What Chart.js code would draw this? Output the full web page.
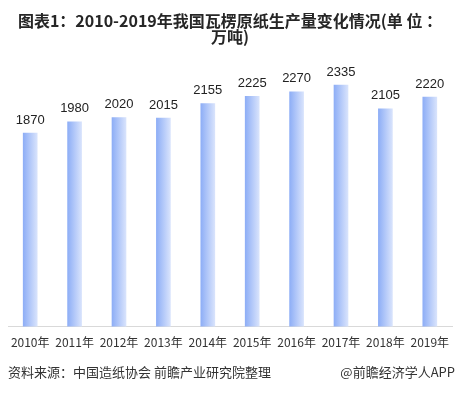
<!DOCTYPE html>
<html><head><meta charset="utf-8">
<script src="https://cdn.jsdelivr.net/npm/chart.js@4"></script>
<style>html,body{margin:0;padding:0;background:#fff}#w{width:461px;height:393px}</style>
</head><body><div id="w"><canvas id="c"></canvas></div>
<script>
const categories = ['2010年','2011年','2012年','2013年','2014年','2015年','2016年','2017年','2018年','2019年'];
const production = [1870,1980,2020,2015,2155,2225,2270,2335,2105,2220];
const titleLines = ['图表1：2010-2019年我国瓦楞原纸生产量变化情况(单 位 ：','万吨)'];
const sourceText = '资料来源：中国造纸协会 前瞻产业研究院整理';
const brandText = '@前瞻经济学人APP';

const CJK = '"Noto Sans CJK SC","Noto Sans",sans-serif';

function barFill(context){
  const chart = context.chart;
  const xs = chart.scales && chart.scales.x;
  if (!xs || context.dataIndex === undefined) return '#a9c0f8';
  const x = xs.getPixelForValue(context.dataIndex);
  if (!isFinite(x)) return '#a9c0f8';
  const g = chart.ctx.createLinearGradient(x-7,0,x+7,0);
  g.addColorStop(0,'#8eaef6');
  g.addColorStop(1,'#d8e3fc');
  return g;
}

const labelPlugin = {
  id:'labels',
  afterDatasetsDraw(chart){
    const ctx = chart.ctx;
    ctx.save();
    ctx.fillStyle = '#222';
    ctx.font = '13px "Liberation Sans",sans-serif';
    ctx.textAlign = 'center';
    ctx.textBaseline = 'middle';
    chart.getDatasetMeta(0).data.forEach((b,i)=>{
      ctx.fillText(String(production[i]), b.x, b.y-13);
    });
    ctx.restore();
  },
  afterDraw(chart){
    const ctx = chart.ctx;
    ctx.save();
    ctx.fillStyle = '#333';
    ctx.font = '13px '+CJK;
    ctx.textBaseline = 'middle';
    ctx.textAlign = 'left';
    ctx.fillText(sourceText, 8, 372);
    ctx.textAlign = 'right';
    ctx.fillText(brandText, 455, 372);
    ctx.restore();
  }
};

new Chart(document.getElementById('c'), {
  type:'bar',
  data:{labels:categories, datasets:[{data:production, barThickness:14, backgroundColor:barFill}]},
  options:{
    responsive:true, maintainAspectRatio:false, animation:false,
    layout:{padding:{left:8,right:9,top:0,bottom:34}},
    plugins:{
      legend:{display:false}, tooltip:{enabled:false},
      title:{display:true, text:titleLines, color:'#262626',
        font:{family:CJK, size:16, weight:'bold', lineHeight:1.0},
        padding:{top:13,bottom:23}}
    },
    scales:{
      x:{grid:{display:false, drawTicks:false}, border:{display:true,color:'#d9d9d9'},
         ticks:{color:'#333', font:{family:CJK,size:12}, padding:9, maxRotation:0, autoSkip:false}},
      y:{display:false, min:0, max:2500}
    }
  },
  plugins:[labelPlugin]
});
</script></body></html>
